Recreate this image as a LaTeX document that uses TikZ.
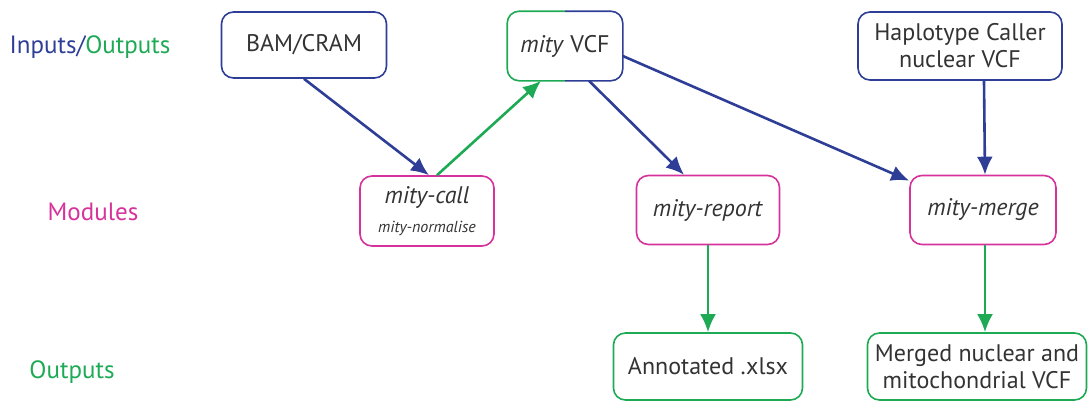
\documentclass[tikz,border=0pt]{standalone}
\usepackage{fontspec}
\setmainfont{PT Sans}
\usetikzlibrary{arrows.meta}

\definecolor{inblue}{RGB}{46,62,150}
\definecolor{outgreen}{RGB}{30,170,85}
\definecolor{modpink}{RGB}{214,50,155}

\tikzset{
    box/.style={draw, rounded corners=6pt, line width=0.8pt, align=center,
        font=\fontsize{12}{13.5}\selectfont, text=black!80, inner sep=2pt},
    inbox/.style={box, draw=inblue},
    outbox/.style={box, draw=outgreen},
    modbox/.style={box, draw=modpink},
    bluearr/.style={-{Latex[length=9pt,width=8pt]}, line width=1.3pt, inblue},
    greenarr/.style={-{Latex[length=9pt,width=8pt]}, line width=1.3pt, outgreen},
    rowlabel/.style={font=\fontsize{12.5}{14}\selectfont}
}

\begin{document}
\begin{tikzpicture}[x=0.5pt, y=-0.5pt]
    \useasboundingbox (0,0) rectangle (1089,403);

    % row labels
    \node[rowlabel, inblue] (lio) at (90,47) {Inputs/\textcolor{outgreen}{Outputs}};
    \node[rowlabel, modpink] (lmod) at (93,212) {Modules};
    \node[rowlabel, outgreen] (lout) at (72,372) {Outputs};

    % inputs
    \node[inbox, minimum width=82.5pt, minimum height=33pt] (bam) at (304,45) {BAM/CRAM};
    \node[inbox, minimum width=102pt, minimum height=34pt] (hc) at (960,46) {Haplotype Caller\\nuclear VCF};
    \node[box, draw=none, minimum width=57pt, minimum height=34pt] (vcf) at (565,46) {\textit{mity} VCF};
    \draw[outgreen, line width=0.8pt, rounded corners=6pt] (vcf.north) -| (vcf.west) |- (vcf.south);
    \draw[inblue, line width=0.8pt, rounded corners=6pt] (vcf.north) -| (vcf.east) |- (vcf.south);

    % modules
    \node[modbox, minimum width=67pt, minimum height=35pt] (call) at (427,211)
        {\textit{mity-call}\\[1pt]{\fontsize{8}{9}\selectfont\textit{mity-normalise}}};
    \node[modbox, minimum width=71.5pt, minimum height=34.5pt] (report) at (708,210) {\textit{mity-report}};
    \node[modbox, minimum width=73pt, minimum height=34.5pt] (merge) at (983,210) {\textit{mity-merge}};

    % outputs
    \node[outbox, minimum width=94.5pt, minimum height=33.5pt] (xlsx) at (708,366.5) {Annotated .xlsx};
    \node[outbox, minimum width=109.5pt, minimum height=33.5pt] (mvcf) at (977,366.5) {Merged nuclear and\\mitochondrial VCF};

    \draw[bluearr] (bam.south) -- ([xshift=1pt]call.north);
    \draw[greenarr] ([xshift=5pt]call.north) -- ([xshift=-12pt]vcf.south);
    \draw[bluearr] ([xshift=12pt]vcf.south) -- ([xshift=-12pt]report.north);
    \draw[bluearr] ([yshift=-5pt]vcf.east) -- ([yshift=-3pt]merge.north west);
    \draw[bluearr] ([xshift=12pt]hc.south) -- ([xshift=1pt]merge.north);
    \draw[greenarr] (report.south) -- (xlsx.north);
    \draw[greenarr] ([xshift=1pt]merge.south) -- ([xshift=4pt]mvcf.north);
\end{tikzpicture}
\end{document}
